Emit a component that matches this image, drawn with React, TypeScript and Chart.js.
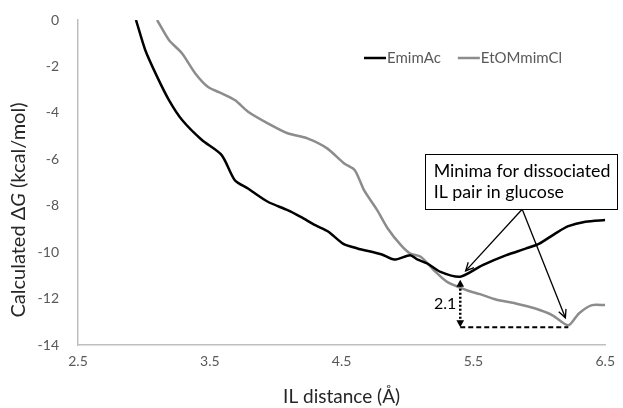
import React, { useEffect, useRef } from "react";
import { Chart, registerables } from "chart.js";

Chart.register(...registerables);

// ---- data ----
const emimAcX = [2.94, 3.01, 3.1, 3.19, 3.29, 3.44, 3.59, 3.69, 3.79, 3.94, 4.09, 4.19, 4.3, 4.4, 4.51, 4.62, 4.8, 4.9, 5.02, 5.07, 5.15, 5.25, 5.4, 5.57, 5.75, 5.9, 6.0, 6.12, 6.22, 6.35, 6.5];
const emimAcY = [0, -1.29, -2.44, -3.45, -4.31, -5.17, -5.82, -6.9, -7.26, -7.83, -8.19, -8.48, -8.84, -9.12, -9.63, -9.84, -10.09, -10.32, -10.13, -10.3, -10.49, -10.85, -11.06, -10.56, -10.13, -9.84, -9.63, -9.2, -8.88, -8.69, -8.62];

const etomX = [3.1, 3.19, 3.29, 3.39, 3.49, 3.59, 3.69, 3.79, 3.94, 4.09, 4.24, 4.39, 4.52, 4.6, 4.67, 4.77, 4.85, 4.95, 5.02, 5.1, 5.2, 5.3, 5.45, 5.55, 5.67, 5.82, 5.97, 6.1, 6.22, 6.3, 6.4, 6.5];
const etomY = [0, -0.86, -1.44, -2.3, -2.9, -3.16, -3.45, -3.95, -4.45, -4.88, -5.1, -5.53, -6.18, -6.47, -7.33, -8.19, -8.98, -9.7, -10.06, -10.2, -10.78, -11.28, -11.64, -11.81, -12.04, -12.21, -12.43, -12.72, -13.15, -12.64, -12.28, -12.28];

const seriesNames = ["EmimAc", "EtOMmimCl"];
const seriesColors = ["#000000", "#8c8c8c"];
const xTicks = [2.5, 3.5, 4.5, 5.5, 6.5];
const yTicks = [0, -2, -4, -6, -8, -10, -12, -14];
const xTitle = "IL distance (Å)";
const yTitleParts = [
  { t: "Calculated \u0394", italic: false },
  { t: "G", italic: true },
  { t: " (kcal/mol)", italic: false },
];
const noteLines = ["Minima for dissociated", "IL pair in glucose"];
// annotation box in data units
const noteBox = { x0: 5.13, x1: 6.59, yTop: -5.78, yBottom: -8.15, arrowFromX: 5.87 };

const FONT = "Lato, 'Liberation Sans', sans-serif";
const AXIS_COLOR = "#bfbfbf";
const TEXT_GRAY = "#595959";

function minPoint(xs: number[], ys: number[]) {
  let k = 0;
  for (let i = 1; i < ys.length; i++) if (ys[i] < ys[k]) k = i;
  return { x: xs[k], y: ys[k] };
}

function arrowHeadOpen(ctx: CanvasRenderingContext2D, fx: number, fy: number, tx: number, ty: number, size: number) {
  const a = Math.atan2(ty - fy, tx - fx);
  ctx.beginPath();
  ctx.moveTo(tx - size * Math.cos(a - 0.45), ty - size * Math.sin(a - 0.45));
  ctx.lineTo(tx, ty);
  ctx.lineTo(tx - size * Math.cos(a + 0.45), ty - size * Math.sin(a + 0.45));
  ctx.stroke();
}

function arrowHeadFilled(ctx: CanvasRenderingContext2D, fx: number, fy: number, tx: number, ty: number, size: number) {
  const a = Math.atan2(ty - fy, tx - fx);
  ctx.beginPath();
  ctx.moveTo(tx, ty);
  ctx.lineTo(tx - size * Math.cos(a - 0.5), ty - size * Math.sin(a - 0.5));
  ctx.lineTo(tx - size * Math.cos(a + 0.5), ty - size * Math.sin(a + 0.5));
  ctx.closePath();
  ctx.fill();
}

const decorPlugin = {
  id: "decor",
  afterDraw(chart: any) {
    const ctx: CanvasRenderingContext2D = chart.ctx;
    const xs = chart.scales.x;
    const ys = chart.scales.y;
    const area = chart.chartArea;
    const px = (v: number) => xs.getPixelForValue(v);
    const py = (v: number) => ys.getPixelForValue(v);
    ctx.save();

    // y title (fit to the length it has in the reference)
    ctx.save();
    ctx.translate(19, 210);
    ctx.rotate(-Math.PI / 2);
    ctx.fillStyle = "#262626";
    ctx.textBaseline = "middle";
    ctx.textAlign = "left";
    const measureAt = (size: number) => {
      let tot = 0;
      const ws = yTitleParts.map((p) => {
        ctx.font = `${p.italic ? "italic " : ""}${size}px ${FONT}`;
        const w = ctx.measureText(p.t).width;
        tot += w;
        return w;
      });
      return { tot, ws };
    };
    const base = measureAt(17);
    const size = Math.min(20, (17 * 256) / base.tot);
    const m = measureAt(size);
    let cx = -m.tot / 2;
    yTitleParts.forEach((p, i) => {
      ctx.font = `${p.italic ? "italic " : ""}${size}px ${FONT}`;
      ctx.fillText(p.t, cx, 0);
      cx += m.ws[i];
    });
    ctx.restore();

    // x title
    ctx.fillStyle = "#262626";
    ctx.font = `19px ${FONT}`;
    ctx.textAlign = "center";
    ctx.textBaseline = "middle";
    ctx.fillText(xTitle, (area.left + area.right) / 2, 397);

    // legend
    ctx.font = `15px ${FONT}`;
    ctx.textAlign = "left";
    let lx = 364;
    const ly = 58;
    seriesNames.forEach((name, i) => {
      ctx.strokeStyle = seriesColors[i];
      ctx.lineWidth = 2.5;
      ctx.beginPath();
      ctx.moveTo(lx, ly);
      ctx.lineTo(lx + 22, ly);
      ctx.stroke();
      ctx.fillStyle = TEXT_GRAY;
      ctx.fillText(name, lx + 23, ly);
      lx += 23 + ctx.measureText(name).width + 17;
    });

    // annotation box
    const bx0 = px(noteBox.x0), bx1 = px(noteBox.x1);
    const by0 = py(noteBox.yTop), by1 = py(noteBox.yBottom);
    ctx.fillStyle = "#ffffff";
    ctx.fillRect(bx0, by0, bx1 - bx0, by1 - by0);
    ctx.strokeStyle = "#000000";
    ctx.lineWidth = 1;
    ctx.strokeRect(Math.round(bx0) + 0.5, Math.round(by0) + 0.5, Math.round(bx1 - bx0), Math.round(by1 - by0));
    ctx.fillStyle = "#000000";
    ctx.font = `17.8px ${FONT}`;
    ctx.textBaseline = "alphabetic";
    ctx.fillText(noteLines[0], bx0 + 9, by0 + 23);
    ctx.fillText(noteLines[1], bx0 + 9, by0 + 44);

    // arrows to minima
    const mA = minPoint(emimAcX, emimAcY);
    const mB = minPoint(etomX, etomY);
    const ox = px(noteBox.arrowFromX), oy = by1;
    [mA, mB].forEach((mm) => {
      const tx0 = px(mm.x), ty0 = py(mm.y);
      const dx = tx0 - ox, dy = ty0 - oy;
      const len = Math.hypot(dx, dy);
      const tx = tx0 - (dx / len) * 8, ty = ty0 - (dy / len) * 8;
      ctx.strokeStyle = "#000000";
      ctx.lineWidth = 1.3;
      ctx.beginPath();
      ctx.moveTo(ox, oy);
      ctx.lineTo(tx, ty);
      ctx.stroke();
      arrowHeadOpen(ctx, ox, oy, tx, ty, 9);
    });

    // difference marker
    const vx = px(mA.x);
    const vTop = py(mA.y) + 3;
    const vBot = py(mB.y) + 2;
    ctx.fillStyle = "#000000";
    ctx.strokeStyle = "#000000";
    ctx.lineWidth = 2.5;
    ctx.setLineDash([2, 2]);
    ctx.beginPath();
    ctx.moveTo(vx, vTop + 5);
    ctx.lineTo(vx, vBot - 5);
    ctx.stroke();
    ctx.setLineDash([5, 3]);
    ctx.lineWidth = 2;
    ctx.beginPath();
    ctx.moveTo(vx, vBot);
    ctx.lineTo(px(mB.x), vBot);
    ctx.stroke();
    ctx.setLineDash([]);
    arrowHeadFilled(ctx, vx, vTop + 10, vx, vTop, 8);
    arrowHeadFilled(ctx, vx, vBot - 10, vx, vBot, 8);

    ctx.font = `16px ${FONT}`;
    ctx.textAlign = "right";
    ctx.textBaseline = "middle";
    ctx.fillText((mA.y - mB.y).toFixed(1), vx - 4, (vTop + vBot) / 2);

    ctx.restore();
  },
};

export default function App() {
  const ref = useRef<HTMLCanvasElement | null>(null);
  useEffect(() => {
    if (!ref.current) return;
    const chart = new Chart(ref.current, {
      type: "line",
      data: {
        datasets: [
          {
            label: seriesNames[0],
            data: emimAcX.map((x, i) => ({ x, y: emimAcY[i] })),
            borderColor: seriesColors[0],
            borderWidth: 2.5,
            pointRadius: 0,
            tension: 0.25,
            fill: false,
          },
          {
            label: seriesNames[1],
            data: etomX.map((x, i) => ({ x, y: etomY[i] })),
            borderColor: seriesColors[1],
            borderWidth: 2.5,
            pointRadius: 0,
            tension: 0.25,
            fill: false,
          },
        ],
      },
      options: {
        animation: false,
        responsive: false,
        devicePixelRatio: 1,
        layout: { padding: { left: 0, top: 20, right: 13, bottom: 0 } },
        plugins: { legend: { display: false }, tooltip: { enabled: false } },
        scales: {
          x: {
            type: "linear",
            min: xTicks[0],
            max: xTicks[xTicks.length - 1],
            afterBuildTicks: (s: any) => {
              s.ticks = xTicks.map((v) => ({ value: v }));
            },
            afterFit: (s: any) => {
              s.height = 63;
            },
            grid: { display: false, drawTicks: false },
            border: { color: AXIS_COLOR, width: 1.5 },
            ticks: {
              color: TEXT_GRAY,
              font: { family: FONT, size: 14 },
              padding: 8,
              maxRotation: 0,
              callback: (v: any) => String(v),
            },
          },
          y: {
            type: "linear",
            min: yTicks[yTicks.length - 1],
            max: yTicks[0],
            afterBuildTicks: (s: any) => {
              s.ticks = yTicks.map((v) => ({ value: v }));
            },
            afterFit: (s: any) => {
              s.width = 78;
              s.paddingTop = 8;
              s.paddingBottom = 8;
            },
            grid: { display: false, drawTicks: false },
            border: { color: AXIS_COLOR, width: 1.5 },
            ticks: {
              color: TEXT_GRAY,
              font: { family: FONT, size: 14 },
              padding: 19,
              callback: (v: any) => String(v),
            },
          },
        },
      },
      plugins: [decorPlugin],
    } as any);
    return () => chart.destroy();
  }, []);
  return (
    <div style={{ position: "absolute", left: 0, top: 0, width: 623, height: 408, background: "#fff" }}>
      <canvas ref={ref} width={623} height={408} />
    </div>
  );
}
